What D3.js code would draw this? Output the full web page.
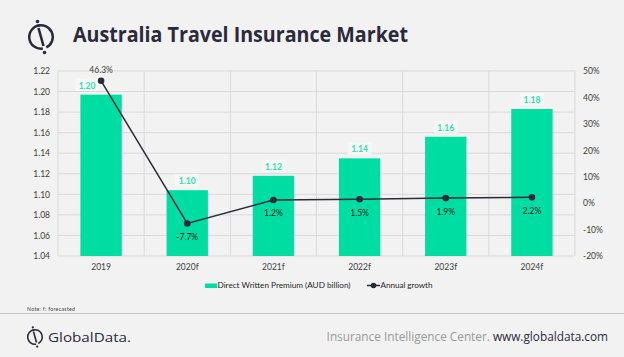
<!DOCTYPE html>
<html><head><meta charset="utf-8">
<script src="https://cdn.jsdelivr.net/npm/d3@7"></script>
<style>html,body{margin:0;padding:0;background:#f2f2f2;}svg{display:block;}</style>
</head><body><svg id="c" width="624" height="357"></svg>
<script>
const categories = ["2019","2020f","2021f","2022f","2023f","2024f"];
const premium = [1.197, 1.104, 1.118, 1.135, 1.156, 1.183];
const premiumLabels = ["1.20","1.10","1.12","1.14","1.16","1.18"];
const growth = [46.3, -7.7, 1.2, 1.5, 1.9, 2.2];
const leftTicks = [1.04,1.06,1.08,1.10,1.12,1.14,1.16,1.18,1.20,1.22];
const rightTicks = [-20,-10,0,10,20,30,40,50];

const svg = d3.select("#c");
const W=624,H=357;
svg.append("rect").attr("width",W).attr("height",H).attr("fill","#f2f2f2");
const m={l:58,r:575,t:71,b:256};
const green="#00dda3", navy="#2b2a3d";
const font="Lato, 'Open Sans', sans-serif";

const x=d3.scaleBand().domain(categories).range([m.l,m.r]).paddingInner(0.52).paddingOuter(0.26);
const xb=d3.scaleBand().domain(categories).range([m.l,m.r]);
const y=d3.scaleLinear().domain([1.04,1.22]).range([m.b,m.t]);
const y2=d3.scaleLinear().domain([-20,50]).range([m.b,m.t]);

// grid
const g=svg.append("g");
g.selectAll("line.h").data(leftTicks).join("line").attr("x1",m.l).attr("x2",m.r)
 .attr("y1",d=>y(d)).attr("y2",d=>y(d)).attr("stroke","#d9d9d9").attr("stroke-width",1);
const vb=[...categories.map(c=>xb(c)),m.r];
g.selectAll("line.v").data(vb).join("line").attr("x1",d=>d).attr("x2",d=>d)
 .attr("y1",m.t).attr("y2",m.b).attr("stroke","#d9d9d9").attr("stroke-width",1);

// axes
const la=svg.append("g").attr("transform",`translate(${m.l},0)`)
 .call(d3.axisLeft(y).tickValues(leftTicks).tickFormat(d3.format(".2f")).tickSize(0).tickPadding(8));
la.select(".domain").remove();
la.selectAll("text").attr("font-family",font).attr("font-size",8.5).attr("fill","#404040");
const ra=svg.append("g").attr("transform",`translate(${m.r},0)`)
 .call(d3.axisRight(y2).tickValues(rightTicks).tickFormat(d=>d+"%").tickSize(0).tickPadding(8));
ra.select(".domain").remove();
ra.selectAll("text").attr("font-family",font).attr("font-size",8.5).attr("fill","#404040");
const ba=svg.append("g").attr("transform",`translate(0,${m.b})`)
 .call(d3.axisBottom(xb).tickSize(0).tickPadding(8));
ba.select(".domain").remove();
ba.selectAll("text").attr("font-family",font).attr("font-size",8.5).attr("fill","#404040");

// bars
svg.selectAll("rect.bar").data(premium).join("rect").attr("class","bar")
 .attr("x",(d,i)=>x(categories[i])).attr("width",x.bandwidth())
 .attr("y",d=>y(d)).attr("height",d=>m.b-y(d)).attr("fill",green);
// bar labels
const bl=svg.append("g");
premium.forEach((d,i)=>{
  const cx=x(categories[i])+x.bandwidth()/2 + (i===0?-14:0);
  bl.append("rect").attr("x",cx-12).attr("y",y(d)-16).attr("width",24).attr("height",12).attr("fill","#f7f7f7");
  bl.append("text").attr("x",cx).attr("y",y(d)-6).attr("text-anchor","middle")
   .attr("font-family",font).attr("font-weight","bold").attr("font-size",8.5).attr("fill","#2ee0b0").text(premiumLabels[i]);
});
// line
const cxf=(i)=>xb(categories[i])+xb.bandwidth()/2;
svg.append("path").datum(growth).attr("fill","none").attr("stroke",navy).attr("stroke-width",1.5)
 .attr("d",d3.line().x((d,i)=>cxf(i)).y(d=>y2(d)));
svg.selectAll("circle.pt").data(growth).join("circle").attr("cx",(d,i)=>cxf(i)).attr("cy",d=>y2(d))
 .attr("r",3.3).attr("fill",navy);
svg.selectAll("text.gl").data(growth).join("text").attr("x",(d,i)=>cxf(i))
 .attr("y",(d,i)=>i===0? y2(d)-8 : y2(d)+16.5).attr("text-anchor","middle")
 .attr("font-family",font).attr("font-size",8.5).attr("fill",(d,i)=>i===0?"#404040":"#1a1a1a")
 .text(d=>d.toFixed(1)+"%");

// legend
const lg=svg.append("g");
lg.append("rect").attr("x",205).attr("y",283.5).attr("width",12).attr("height",4.5).attr("fill",green);
lg.append("text").attr("x",217.5).attr("y",288).attr("font-family",font).attr("font-size",8.2).attr("fill","#262626")
 .attr("textLength",133).text("Direct Written Premium (AUD billion)");
lg.append("line").attr("x1",367).attr("x2",380).attr("y1",285.5).attr("y2",285.5).attr("stroke",navy).attr("stroke-width",1.5);
lg.append("circle").attr("cx",373.5).attr("cy",285.5).attr("r",2.8).attr("fill",navy);
lg.append("text").attr("x",380.5).attr("y",288).attr("font-family",font).attr("font-size",8.2).attr("fill","#262626")
 .attr("textLength",52).text("Annual growth");

// note & separator
svg.append("text").attr("x",27).attr("y",311).attr("font-family",font).attr("font-size",5.2).attr("fill","#404040")
 .attr("textLength",48).text("Note: f: forecasted");
svg.append("line").attr("x1",0).attr("x2",W).attr("y1",313.5).attr("y2",313.5).attr("stroke","#c8c8c8").attr("stroke-width",1);

// title + logo
function logo(cx,cy,s){
  const lg=svg.append("g").attr("transform",`translate(${cx},${cy}) scale(${s})`);
  lg.append("path").attr("d",d3.arc()({innerRadius:10.5,outerRadius:13,startAngle:-0.35,endAngle:Math.PI*0.85})).attr("fill",navy);
  lg.append("path").attr("d",d3.arc()({innerRadius:10.5,outerRadius:13,startAngle:Math.PI*0.95,endAngle:Math.PI*1.98})).attr("fill",navy);
  lg.append("line").attr("x1",-2.5).attr("y1",-9).attr("x2",2.5).attr("y2",9).attr("stroke",navy).attr("stroke-width",2.6);
  lg.append("circle").attr("cx",-3.5).attr("cy",-15.5).attr("r",1.8).attr("fill",navy);
  lg.append("circle").attr("cx",3.5).attr("cy",15.5).attr("r",1.8).attr("fill",navy);
}
logo(41,37,1);
svg.append("text").attr("x",73).attr("y",42).attr("font-family","'Open Sans', sans-serif").attr("font-weight","bold")
 .attr("font-size",21.5).attr("fill","#2b2a3d").attr("textLength",335).attr("lengthAdjust","spacingAndGlyphs").text("Australia Travel Insurance Market");

// footer
logo(35,337,0.62);
svg.append("text").attr("x",48).attr("y",342).attr("font-family","'Open Sans', sans-serif").attr("font-size",13.5)
 .attr("fill","#2b2a3d").attr("textLength",83).attr("lengthAdjust","spacingAndGlyphs").text("GlobalData.");
const ft=svg.append("text").attr("x",608).attr("y",341).attr("text-anchor","end").attr("font-family","'Open Sans', sans-serif").attr("font-size",11.8);
ft.append("tspan").attr("fill","#999999").text("Insurance Intelligence Center. ");
ft.append("tspan").attr("fill","#2b2a3d").text("www.globaldata.com");
</script></body></html>
